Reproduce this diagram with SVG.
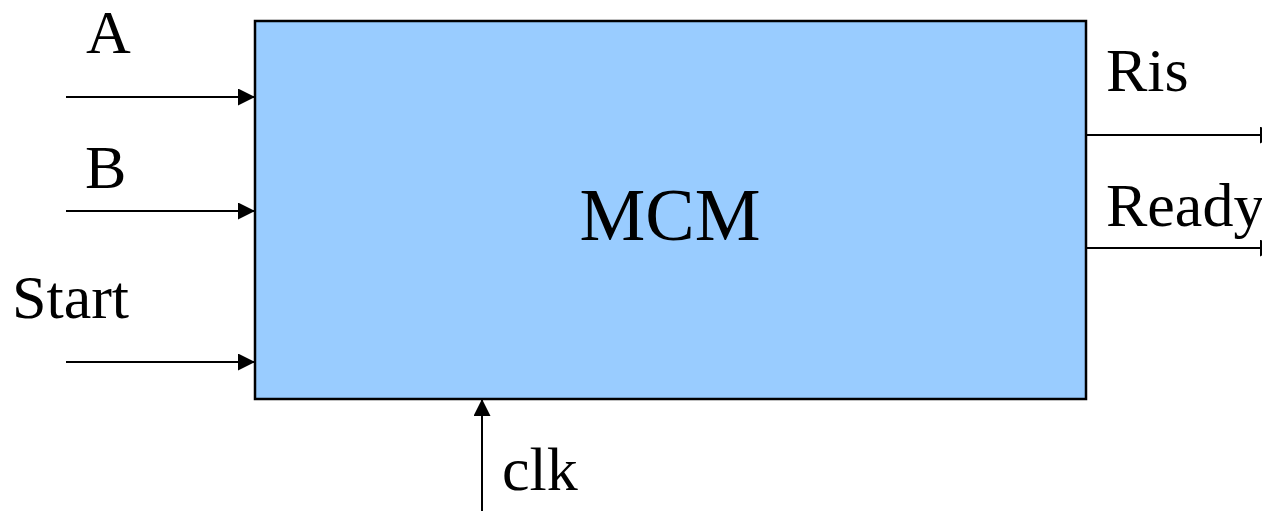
<svg xmlns="http://www.w3.org/2000/svg" width="1262" height="511" viewBox="0 0 1262 511">
<defs>
<style>
.lbl{font-family:'Liberation Serif','Times New Roman',serif;font-size:62px;fill:#000}
.wire{stroke:#000;stroke-width:2;fill:none}
</style>
<marker id="ah" markerWidth="17" markerHeight="17" refX="17" refY="8.5" orient="auto" markerUnits="userSpaceOnUse">
<path d="M0,0 L17,8.5 L0,17 Z" fill="#000"/>
</marker>
</defs>
<rect width="1262" height="511" fill="#fff"/>
<g id="mcm">
<rect x="255" y="21" width="831" height="378" fill="#99CCFF" stroke="#000" stroke-width="2.5"/>
<text x="670" y="240" text-anchor="middle" class="lbl" style="font-size:74px">MCM</text>
</g>
<g id="connectors">
<line class="wire" x1="66" y1="97" x2="255" y2="97" marker-end="url(#ah)"/>
<line class="wire" x1="66" y1="211" x2="255" y2="211" marker-end="url(#ah)"/>
<line class="wire" x1="66" y1="362" x2="255" y2="362" marker-end="url(#ah)"/>
<line class="wire" x1="1086" y1="135" x2="1277" y2="135" marker-end="url(#ah)"/>
<line class="wire" x1="1086" y1="248" x2="1277" y2="248" marker-end="url(#ah)"/>
<line class="wire" x1="482" y1="511" x2="482" y2="399" marker-end="url(#ah)"/>
</g>
<g id="labels">
<text x="86" y="53" class="lbl">A</text>
<text x="85" y="188" class="lbl">B</text>
<text x="12" y="318" class="lbl">Start</text>
<text x="1106" y="91" class="lbl">Ris</text>
<text x="1106" y="226" class="lbl">Ready</text>
<text x="502" y="490" class="lbl">clk</text>
</g>
</svg>
